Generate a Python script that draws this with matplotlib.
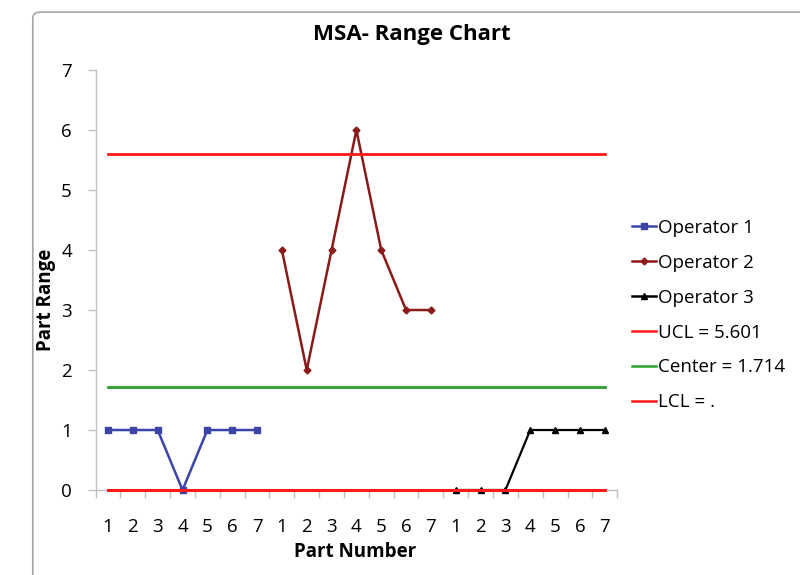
import numpy as np
import matplotlib.pyplot as plt
from matplotlib.patches import FancyBboxPatch

plt.rcParams['font.family'] = ['Open Sans', 'DejaVu Sans']

# range per part, one block of 7 parts per operator
parts = [1, 2, 3, 4, 5, 6, 7]
op1_range = [1, 1, 1, 0, 1, 1, 1]
op2_range = [4, 2, 4, 6, 4, 3, 3]
op3_range = [0, 0, 0, 1, 1, 1, 1]

ucl = 5.601
center = 1.714
lcl = 0.0

n = len(parts)
x1 = np.arange(1, n + 1)
x2 = x1 + n
x3 = x2 + n
x_all = np.arange(1, 3 * n + 1)

fig = plt.figure(figsize=(8, 5.75), dpi=100)

# chart border
fig.patches.append(FancyBboxPatch((0.041, -0.1), 1.2, 1.079,
                                  boxstyle="round,pad=0,rounding_size=0.01",
                                  transform=fig.transFigure, fill=False,
                                  edgecolor="#a6a6a6", linewidth=1.2))

ax = fig.add_axes([0.1195, 0.1478, 0.652, 0.7304])

ax.plot(x1, op1_range, color="#3c44a8", marker="s", markersize=5,
        linewidth=1.8, label="Operator 1", zorder=3, clip_on=False)
ax.plot(x2, op2_range, color="#8b1a1a", marker="D", markersize=3.5,
        linewidth=1.8, label="Operator 2", zorder=3, clip_on=False)
ax.plot(x3, op3_range, color="black", marker="^", markersize=4.5,
        linewidth=1.6, label="Operator 3", zorder=3, clip_on=False)

ax.plot(x_all, np.full(len(x_all), ucl), color="#ff1a1a", linewidth=2,
        label=f"UCL = {ucl:.3f}", zorder=4)
ax.plot(x_all, np.full(len(x_all), center), color="#2ca02c", linewidth=2,
        label=f"Center = {center:.3f}", zorder=4)
ax.plot(x_all, np.full(len(x_all), lcl), color="#ff1a1a", linewidth=2.2,
        label="LCL = .", zorder=4, clip_on=False)

ax.set_xlim(0.5, 3 * n + 0.5)
ax.set_ylim(0, 7)
ax.set_yticks(range(0, 8))

ax.set_xticks(x_all)
ax.set_xticklabels([str(p) for p in parts * 3])
ax.set_xticks(np.arange(0.5, 3 * n + 1.5, 1), minor=True)
ax.tick_params(axis="x", which="major", length=0, pad=20, labelsize=13.5)
ax.tick_params(axis="x", which="minor", length=6, color="#bfbfbf", width=1)
ax.tick_params(axis="y", length=6, color="#bfbfbf", width=1, labelsize=13.5, pad=11)

for side in ("top", "right"):
    ax.spines[side].set_visible(False)
for side in ("left", "bottom"):
    ax.spines[side].set_color("#bfbfbf")
    ax.spines[side].set_linewidth(1)

fig.text(0.444, 0.040, "Part Number", fontsize=13.5, fontweight="bold",
         ha="center", va="center")
fig.text(0.057, 0.478, "Part Range", fontsize=13.5, fontweight="bold",
         ha="center", va="center", rotation=90)
fig.text(0.515, 0.940, "MSA- Range Chart", fontsize=16, fontweight="bold",
         ha="center", va="center")

leg = fig.legend(loc="center left", bbox_to_anchor=(0.780, 0.452), frameon=False,
                 fontsize=13.5, handlelength=1.3, handletextpad=0.12,
                 labelspacing=0.9, borderaxespad=0)
for line in leg.get_lines():
    line.set_linewidth(1.8)

fig.savefig("out.png", dpi=100)
